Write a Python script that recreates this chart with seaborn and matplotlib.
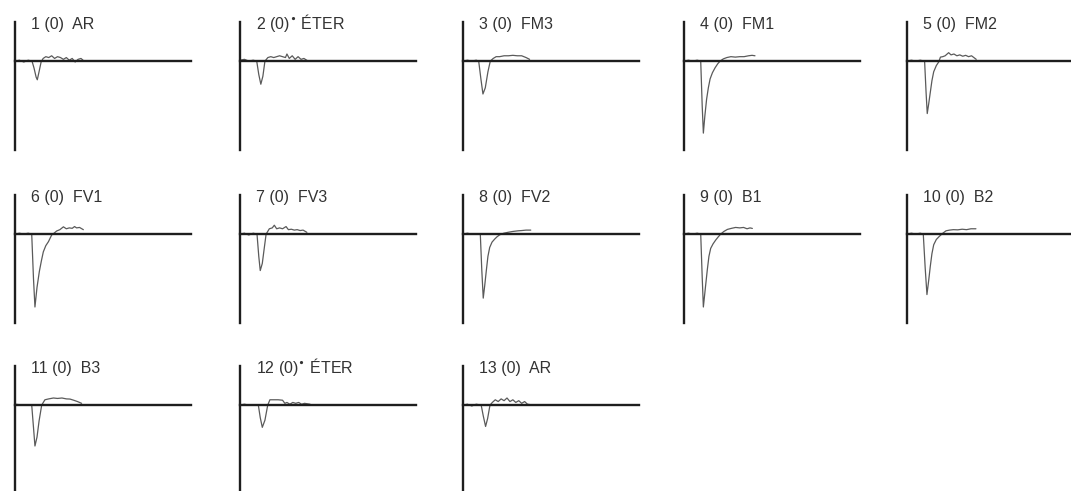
import matplotlib
matplotlib.use("Agg")
import matplotlib.pyplot as plt
import seaborn as sns
import pandas as pd

sns.set_style("white")
plt.rcParams["font.family"] = ["Liberation Sans", "DejaVu Sans"]

# Recording labels (stimulus number, response, compound)
labels = [
    "1 (0)  AR", r"2 (0)$^{\bullet}$ ÉTER", "3 (0)  FM3", "4 (0)  FM1", "5 (0)  FM2",
    "6 (0)  FV1", "7 (0)  FV3", "8 (0)  FV2", "9 (0)  B1", "10 (0)  B2",
    "11 (0)  B3", r"12 (0)$^{\bullet}$ ÉTER", "13 (0)  AR",
]

# Antennal responses: time (s) and potential (mV)
t1 = [0, 1.5, 3, 4.5, 5.8, 6.5, 7.2, 7.6, 8.2, 8.9, 9.6, 10.5, 11.5, 12.5, 13.5, 14.5, 15.5, 16.5, 17.5, 18.5, 19.5, 20.5, 21.5, 22.5, 23.2]
v1 = [0, 0.01, -0.01, 0.01, 0, -0.08, -0.18, -0.21, -0.12, -0.01, 0.03, 0.05, 0.04, 0.06, 0.03, 0.05, 0.04, 0.02, 0.04, 0.01, 0.03, -0.01, 0.02, 0.03, 0.01]

t2 = [0, 1.5, 3, 4.5, 5.7, 6.4, 7.1, 7.8, 8.5, 9.5, 10.5, 11.5, 12.5, 13.5, 14.5, 15.5, 16, 16.8, 17.8, 18.8, 19.8, 20.8, 21.8, 23.2]
v2 = [0.01, 0.02, 0, 0.01, 0, -0.15, -0.26, -0.17, 0, 0.04, 0.05, 0.04, 0.05, 0.06, 0.05, 0.04, 0.08, 0.03, 0.06, 0.02, 0.05, 0.02, 0.03, 0.0]

t3 = [0, 1.5, 3, 4.5, 5.35, 6.1, 6.8, 7.6, 8.5, 9.3, 10.3, 11.3, 12.5, 14, 15.5, 17, 18.5, 20, 21.5, 22.7]
v3 = [0, 0.01, 0, 0.01, 0, -0.2, -0.37, -0.3, -0.12, 0, 0.03, 0.05, 0.05, 0.06, 0.06, 0.065, 0.06, 0.06, 0.04, 0.02]

t4 = [0, 1.5, 3, 4.5, 5.7, 6.2, 6.6, 7.1, 7.7, 8.3, 8.9, 9.7, 10.6, 11.5, 12.3, 13.4, 14.6, 16, 17.5, 19, 20.5, 22, 23.2, 24.2]
v4 = [0, 0.01, 0, 0.01, 0, -0.5, -0.81, -0.62, -0.43, -0.3, -0.2, -0.13, -0.075, -0.03, 0, 0.025, 0.04, 0.05, 0.045, 0.05, 0.05, 0.06, 0.065, 0.06]

t5 = [0, 1.5, 3, 4.5, 6.0, 6.5, 6.9, 7.4, 7.95, 8.5, 9.1, 10, 10.8, 11.4, 12.2, 13, 14.2, 15, 16, 17, 18, 19, 20, 21, 22, 23.6]
v5 = [0, 0.01, 0, 0.01, 0, -0.35, -0.59, -0.48, -0.35, -0.22, -0.12, -0.05, -0.01, 0.045, 0.05, 0.06, 0.095, 0.07, 0.08, 0.06, 0.07, 0.055, 0.065, 0.05, 0.06, 0.02]

t6 = [0, 1.5, 3, 4.5, 5.7, 6.3, 6.8, 7.5, 8.3, 9.0, 9.65, 10.5, 11.4, 12.5, 13.3, 14.2, 15.3, 16.5, 17.5, 18.5, 19.5, 20.3, 21, 22, 23.3]
v6 = [0, 0.01, 0, 0.01, 0, -0.5, -0.82, -0.6, -0.42, -0.3, -0.2, -0.13, -0.085, -0.01, 0.01, 0.035, 0.05, 0.082, 0.06, 0.07, 0.065, 0.085, 0.07, 0.075, 0.05]

t7 = [0, 1.5, 3, 4.5, 5.8, 6.4, 6.9, 7.6, 8.3, 8.9, 10, 11, 11.7, 12.5, 13.5, 14.5, 15.7, 16.5, 17.5, 18.5, 19.5, 20.5, 21.5, 22.8]
v7 = [0, 0.01, -0.01, 0.01, 0, -0.25, -0.41, -0.33, -0.15, 0, 0.06, 0.07, 0.1, 0.06, 0.07, 0.06, 0.085, 0.05, 0.055, 0.045, 0.05, 0.04, 0.045, 0.02]

t8 = [0, 1.5, 3, 4.5, 5.9, 6.4, 6.9, 7.4, 7.95, 8.5, 9.1, 9.9, 10.8, 11.6, 12.5, 13.9, 15.3, 17, 18.75, 20, 21.5, 23.1]
v8 = [0, 0.01, 0, 0.005, 0, -0.4, -0.72, -0.58, -0.41, -0.25, -0.15, -0.09, -0.056, -0.03, -0.008, 0.01, 0.02, 0.03, 0.037, 0.04, 0.045, 0.045]

t9 = [0, 1.5, 3, 4.5, 5.7, 6.2, 6.6, 7.3, 7.95, 8.5, 9.1, 9.9, 10.8, 11.7, 12.5, 13.6, 14.8, 16.2, 17.6, 19, 20.3, 21.5, 22.5, 23.3]
v9 = [0, 0.01, 0, 0.01, 0, -0.48, -0.82, -0.6, -0.4, -0.25, -0.16, -0.11, -0.067, -0.03, 0, 0.03, 0.053, 0.065, 0.075, 0.07, 0.075, 0.06, 0.07, 0.064]

t10 = [0, 1.5, 3, 4.5, 5.55, 6.2, 6.8, 7.4, 7.95, 8.5, 9.1, 10, 11, 12.2, 13.3, 14.5, 15.8, 17.3, 18.8, 20.3, 21.8, 23.5]
v10 = [0, 0.01, 0, 0.01, 0, -0.38, -0.68, -0.52, -0.36, -0.22, -0.12, -0.06, -0.026, 0.01, 0.037, 0.045, 0.05, 0.048, 0.055, 0.05, 0.06, 0.06]

t11 = [0, 1.5, 3, 4.5, 5.7, 6.3, 6.8, 7.5, 8.2, 9.1, 10.2, 11.5, 13.1, 14.5, 16, 17.5, 18.75, 20, 21.3, 22.7]
v11 = [0.01, 0.005, 0, 0.005, 0, -0.25, -0.46, -0.36, -0.18, 0, 0.06, 0.07, 0.08, 0.075, 0.08, 0.07, 0.068, 0.055, 0.04, 0.02]

t12 = [0, 1.5, 3, 4.5, 6.25, 6.9, 7.6, 8.5, 9.45, 10.2, 11.5, 13, 14.5, 15.3, 16, 17, 18, 19, 20, 21, 22, 23.9]
v12 = [0, 0.01, 0, 0.005, 0, -0.14, -0.25, -0.17, 0, 0.06, 0.06, 0.06, 0.055, 0.02, 0.03, 0.01, 0.03, 0.02, 0.03, 0.01, 0.02, 0.01]

t13 = [0, 1.5, 3, 4.5, 6.2, 6.9, 7.7, 8.4, 9.2, 10, 11, 12, 13, 14, 15, 16, 17, 18, 19, 20, 21, 22, 23.9]
v13 = [0, 0.01, -0.01, 0.01, 0, -0.12, -0.24, -0.15, 0, 0.03, 0.06, 0.04, 0.07, 0.05, 0.08, 0.04, 0.06, 0.03, 0.05, 0.02, 0.04, 0.01, 0.0]

times = [t1, t2, t3, t4, t5, t6, t7, t8, t9, t10, t11, t12, t13]
volts = [v1, v2, v3, v4, v5, v6, v7, v8, v9, v10, v11, v12, v13]

W, H = 1071, 491
fig = plt.figure(figsize=(W / 100, H / 100), dpi=100)

# panel grid in pixels: left edge of each column, (top, bottom) of each row
col_left = [15, 240, 463, 684, 907]
row_box = [(22, 150), (195, 323), (366, 494)]
panel_w = 176
x_max = 60.0
y_lo, y_hi = -1.0, 0.44

for i, (lab, t, v) in enumerate(zip(labels, times, volts)):
    r, c = divmod(i, 5)
    top, bot = row_box[r]
    left = col_left[c]
    ax = fig.add_axes([left / W, 1 - bot / H, panel_w / W, (bot - top) / H])
    ax.set_xlim(0, x_max)
    ax.set_ylim(y_lo, y_hi)
    ax.patch.set_alpha(0)
    for s in ("top", "right"):
        ax.spines[s].set_visible(False)
    ax.spines["left"].set_color("#1e1e1e")
    ax.spines["left"].set_linewidth(1.7)
    ax.spines["bottom"].set_position(("data", 0))
    ax.spines["bottom"].set_color("#1e1e1e")
    ax.spines["bottom"].set_linewidth(1.7)
    ax.set_xticks([])
    ax.set_yticks([])
    df = pd.DataFrame({"t": t, "v": v})
    sns.lineplot(data=df, x="t", y="v", ax=ax, color="#5a5a5a", linewidth=0.9,
                 sort=False, estimator=None)
    ax.set_xlabel("")
    ax.set_ylabel("")
    fig.text((left + 16) / W, 1 - (top + 7) / H, lab, fontsize=11.5,
             color="#333333", ha="left", va="baseline")

fig.savefig("out.png", dpi=100, facecolor="white")
